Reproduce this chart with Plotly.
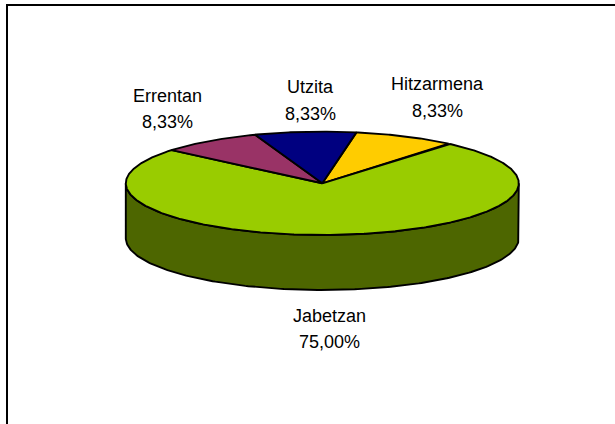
import numpy as np
import plotly.graph_objects as go

# ---- data ----
categories = ["Hitzarmena", "Jabetzan", "Errentan", "Utzita"]
values = [1, 9, 1, 1]

# ---- style ----
top_colors = ["#FFCC00", "#99CC00", "#993366", "#000080"]
side_colors = ["#806600", "#4D6600", "#4D1A33", "#000040"]
label_x = [437, 329.5, 167.5, 310.5]
label_y = [[84, 110.5], [316, 342], [96, 122], [87, 114]]

W, H = 615, 424
CX, CY = 322.3, 183.3      # centre of the top face
RX, RY = 196.5, 51.7       # semi-axes of the top face
DEPTH = 55                 # thickness of the pie
START = 80                 # angle (deg) of the first slice edge, slices run clockwise
LINE = dict(color="black", width=1.9)
FONT = dict(family="Liberation Sans, Arial, sans-serif", size=18, color="black")


def ell(t_deg, dz=0.0):
    t = np.radians(t_deg)
    return CX + RX * np.cos(t), CY - RY * np.sin(t) + dz


total = float(sum(values))
bounds = []
t0 = START
for v in values:
    t1 = t0 - 360.0 * v / total
    bounds.append((t1, t0))
    t0 = t1

fig = go.Figure()

# side walls (only the front half, sin < 0, is visible)
for (lo_s, hi_s), col in zip(bounds, side_colors):
    for k in range(-2, 3):
        lo = max(lo_s, -180 + 360 * k)
        hi = min(hi_s, 0 + 360 * k)
        if hi - lo <= 0:
            continue
        ts = np.linspace(lo, hi, 200)
        xt, yt = ell(ts)
        xb, yb = ell(ts[::-1], DEPTH)
        xs = np.concatenate([xt, xb, xt[:1]])
        ys = np.concatenate([yt, yb, yt[:1]])
        fig.add_trace(go.Scatter(x=xs, y=ys, mode="lines", fill="toself",
                                 fillcolor=col, line=LINE, hoverinfo="skip",
                                 showlegend=False))

# top faces
for (lo, hi), col in zip(bounds, top_colors):
    n = max(8, int(abs(hi - lo) * 2))
    ts = np.linspace(hi, lo, n)
    xe, ye = ell(ts)
    xs = np.concatenate([[CX], xe, [CX]])
    ys = np.concatenate([[CY], ye, [CY]])
    fig.add_trace(go.Scatter(x=xs, y=ys, mode="lines", fill="toself",
                             fillcolor=col, line=LINE, hoverinfo="skip",
                             showlegend=False))

# labels
for name, v, lx, (ly1, ly2) in zip(categories, values, label_x, label_y):
    pct = f"{v / total * 100:.2f}".replace(".", ",") + "%"
    for txt, ly in ((name, ly1), (pct, ly2)):
        fig.add_annotation(x=lx, y=ly, text=txt, showarrow=False,
                           xanchor="center", yanchor="middle", font=FONT)

# chart-area border (left and top edges visible in the frame)
fig.add_shape(type="rect", xref="x", yref="y", x0=7, y0=5, x1=W + 40, y1=H + 40,
              line=dict(color="black", width=2), fillcolor="rgba(0,0,0,0)",
              layer="below")

fig.update_layout(
    width=W, height=H,
    margin=dict(l=0, r=0, t=0, b=0),
    paper_bgcolor="white", plot_bgcolor="white",
    xaxis=dict(range=[0, W], visible=False, fixedrange=True),
    yaxis=dict(range=[H, 0], visible=False, fixedrange=True),
    showlegend=False,
)

fig.write_html("out.html", config={"displayModeBar": False},
               post_script="document.body.style.margin='0';"
                           "document.body.style.overflow='hidden';")
